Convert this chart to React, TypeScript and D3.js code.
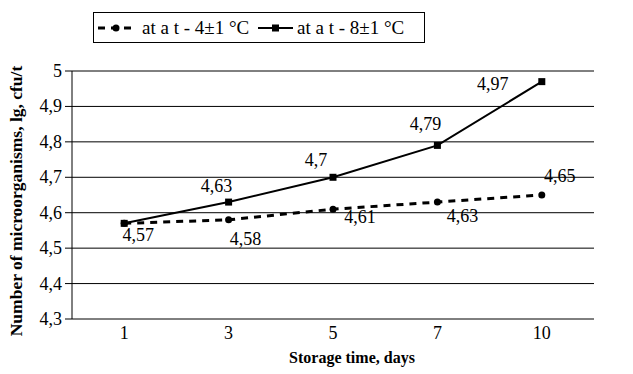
import { scalePoint, scaleLinear, line as d3line } from "d3";

const days = ["1", "3", "5", "7", "10"];
const cold = [4.57, 4.58, 4.61, 4.63, 4.65]; // at 4±1 °C
const warm = [4.57, 4.63, 4.7, 4.79, 4.97]; // at 8±1 °C
const yTicks = [4.3, 4.4, 4.5, 4.6, 4.7, 4.8, 4.9, 5];
const seriesNames = ["at a t - 4\u00b11 \u00b0C", "at a t - 8\u00b11 \u00b0C"];

// label nudges (px) relative to each point
const coldLabelOff = [
  [14, 18],
  [17, 25],
  [27, 14],
  [25, 20],
  [18, -13],
];
const warmLabelOff = [
  [0, 0],
  [-12, -10],
  [-17, -11],
  [-12, -15],
  [-49, 8],
];

const W = 633;
const H = 374;
const serif = { fontFamily: "Liberation Serif" };
const fmt = (v: number) => String(v).replace(".", ",");

export default function App() {
  const left = 72;
  const right = 594;
  const top = 71;
  const bottom = 319;

  const x = scalePoint<string>().domain(days).range([left, right]).padding(0.5);
  const y = scaleLinear().domain([4.3, 5]).range([bottom, top]);

  const mk = d3line<number>()
    .x((_, i) => x(days[i]) ?? 0)
    .y((d) => y(d));

  return (
    <svg width={W} height={H} style={{ position: "absolute", left: 0, top: 0, background: "#fff" }}>
      <rect width={W} height={H} fill="#fff" />

      {/* grid + y ticks */}
      {yTicks.map((t) => (
        <g key={t}>
          <line x1={left - 7} x2={right} y1={y(t)} y2={y(t)} stroke="#000" strokeWidth={1} />
          <text x={62} y={y(t) + 6} fontSize={18} textAnchor="end" style={serif}>
            {fmt(t)}
          </text>
        </g>
      ))}
      <line x1={left} x2={left} y1={top} y2={bottom} stroke="#000" strokeWidth={1} />

      {/* x labels */}
      {days.map((d) => (
        <text key={d} x={x(d)} y={339} fontSize={18} textAnchor="middle" style={serif}>
          {d}
        </text>
      ))}
      <text x={352} y={363} fontSize={16} fontWeight="bold" textAnchor="middle" style={serif}>
        Storage time, days
      </text>
      <text
        transform="translate(22, 201) rotate(-90)"
        fontSize={17.5}
        fontWeight="bold"
        textAnchor="middle"
        style={serif}
      >
        Number of microorganisms, lg, cfu/t
      </text>

      {/* series */}
      <path d={mk(cold) ?? ""} fill="none" stroke="#000" strokeWidth={3} strokeDasharray="7 6" />
      <path d={mk(warm) ?? ""} fill="none" stroke="#000" strokeWidth={2} />
      {cold.map((v, i) => (
        <circle key={"c" + i} cx={x(days[i])} cy={y(v)} r={3.5} fill="#000" />
      ))}
      {warm.map((v, i) => (
        <rect key={"w" + i} x={(x(days[i]) ?? 0) - 3.5} y={y(v) - 3.5} width={7} height={7} fill="#000" />
      ))}

      {/* value labels */}
      {cold.map((v, i) => (
        <text
          key={"cl" + i}
          x={(x(days[i]) ?? 0) + coldLabelOff[i][0]}
          y={y(v) + coldLabelOff[i][1]}
          fontSize={18}
          textAnchor="middle"
          style={serif}
        >
          {fmt(v)}
        </text>
      ))}
      {warm.map((v, i) =>
        i === 0 ? null : (
          <text
            key={"wl" + i}
            x={(x(days[i]) ?? 0) + warmLabelOff[i][0]}
            y={y(v) + warmLabelOff[i][1]}
            fontSize={18}
            textAnchor="middle"
            style={serif}
          >
            {fmt(v)}
          </text>
        )
      )}

      {/* legend */}
      <g>
        <rect x={93.5} y={12.5} width={331} height={30} fill="#fff" stroke="#000" strokeWidth={1} />
        <line x1={98} x2={134} y1={28} y2={28} stroke="#000" strokeWidth={3} strokeDasharray="7 6" />
        <circle cx={116} cy={28} r={3.5} fill="#000" />
        <text x={142} y={34} fontSize={19} style={serif}>
          {seriesNames[0]}
        </text>
        <line x1={258} x2={293} y1={28} y2={28} stroke="#000" strokeWidth={2} />
        <rect x={272} y={24.5} width={7} height={7} fill="#000" />
        <text x={297} y={34} fontSize={19} style={serif}>
          {seriesNames[1]}
        </text>
      </g>
    </svg>
  );
}
